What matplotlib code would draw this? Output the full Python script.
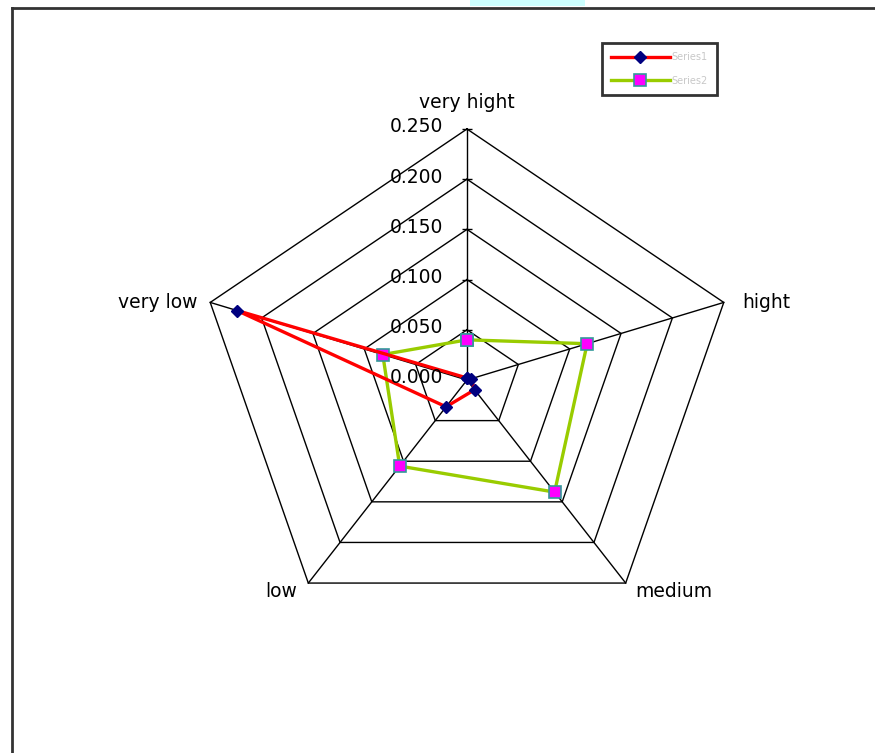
import numpy as np
import matplotlib
matplotlib.use('Agg')
import matplotlib.pyplot as plt
from matplotlib.lines import Line2D
from matplotlib.patches import Rectangle

# categories go clockwise starting from the top spoke
categories = ['very hight', 'hight', 'medium', 'low', 'very low']
series1 = [0.002, 0.004, 0.012, 0.033, 0.224]
series2 = [0.040, 0.117, 0.138, 0.106, 0.082]
ring_values = [0.000, 0.050, 0.100, 0.150, 0.200, 0.250]
ring_labels = ['0.000', '0.050', '0.100', '0.150', '0.200', '0.250']

plt.rcParams['font.family'] = ['DejaVu Sans']

fig = plt.figure(figsize=(8.75, 7.53), dpi=100)
fig.patch.set_facecolor('white')

# radar drawn on plain cartesian axes (non-square scaling on purpose)
ax = fig.add_axes([0.13371, 0.09695, 0.8, 0.79681])
ax.set_xlim(-0.3241, 0.3241)
ax.set_ylim(-0.2988, 0.2988)
ax.axis('off')

angles = np.deg2rad(90 - 72 * np.arange(len(categories)))
cx, cy = np.cos(angles), np.sin(angles)

def closed(a):
    return np.append(a, a[0])

# pentagon rings
for r in ring_values[1:]:
    ax.plot(closed(r * cx), closed(r * cy), color='black', lw=1.0, zorder=1)

# spokes
rmax = ring_values[-1]
for i in range(len(categories)):
    ax.plot([0, rmax * cx[i]], [0, rmax * cy[i]], color='black', lw=1.0, zorder=1)

# tick marks on the top spoke
ax.plot(np.zeros(len(ring_values)), ring_values, ls='none', marker='_',
        ms=7, mew=1.0, color='black', zorder=1)

# value labels along the top spoke
for v, lab in zip(ring_values, ring_labels):
    ax.annotate(lab, (0, v), xytext=(-17, 1.5), textcoords='offset points',
                ha='right', va='center', fontsize=13.5, color='black', zorder=5)

# category labels at the spoke ends
offsets = [(0, 19, 'center', 'center'),
           (13, 0, 'left', 'center'),
           (7, -6, 'left', 'center'),
           (-8, -6, 'right', 'center'),
           (-9, 0, 'right', 'center')]
for i, name in enumerate(categories):
    dx, dy, ha, va = offsets[i]
    ax.annotate(name, (rmax * cx[i], rmax * cy[i]), xytext=(dx, dy),
                textcoords='offset points', ha=ha, va=va, fontsize=13.5)

s1 = np.array(series1)
s2 = np.array(series2)
ax.plot(closed(s2 * cx), closed(s2 * cy), color='#99CC00', lw=2.4,
        marker='s', ms=8, mfc='#FF00FF', mec='#339999', mew=1.2,
        label='Series2', zorder=3)
ax.plot(closed(s1 * cx), closed(s1 * cy), color='#FF0000', lw=2.4,
        marker='D', ms=6.5, mfc='#000080', mec='#000080',
        label='Series1', zorder=4)

h, l = ax.get_legend_handles_labels()
leg = fig.legend(h[::-1], l[::-1], loc='upper left',
                 bbox_to_anchor=(602 / 875, 1 - 43 / 753),
                 fontsize=7, labelcolor='#c8c8c8', frameon=True,
                 fancybox=False, edgecolor='black', handlelength=6.0,
                 labelspacing=1.4, borderpad=0.95, handletextpad=0.2,
                 borderaxespad=0)
leg.get_frame().set_linewidth(2.0)

# outer chart border and the strip above it
fig.add_artist(Line2D([12 / 875, 12 / 875], [0, 1 - 8 / 753],
                      color='#333333', lw=2.0))
fig.add_artist(Line2D([12 / 875, 1], [1 - 8 / 753, 1 - 8 / 753],
                      color='#333333', lw=2.0))
fig.add_artist(Rectangle((470 / 875, 1 - 6 / 753), 115 / 875, 6 / 753,
                         transform=fig.transFigure, color='#CCFFFF', lw=0))

fig.savefig('out.png', dpi=100)
